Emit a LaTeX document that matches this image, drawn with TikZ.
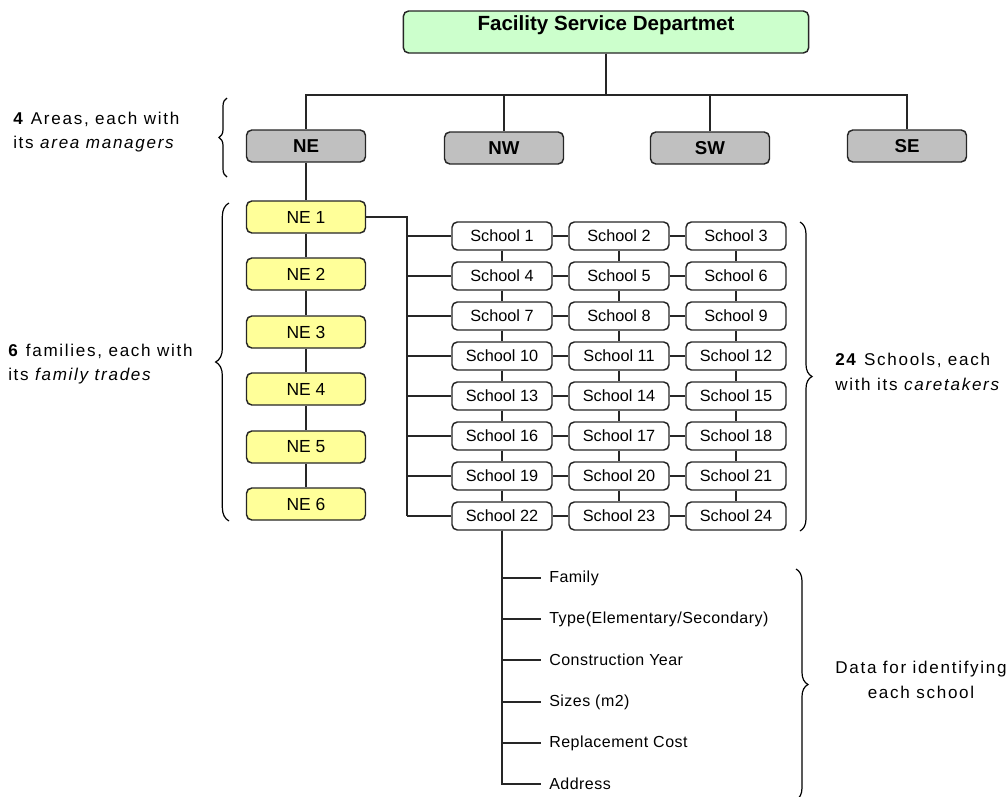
\documentclass[tikz,border=0pt]{standalone}
\usepackage{fontspec}
\setmainfont{Liberation Sans}
\newfontfamily\spacedfont{Liberation Sans}[LetterSpace=10]
\newfontfamily\itemfont{Liberation Sans}[LetterSpace=3]
\usetikzlibrary{decorations.pathreplacing}

\definecolor{fsdgreen}{HTML}{CCFFCC}
\definecolor{areagray}{HTML}{C0C0C0}
\definecolor{neyellow}{HTML}{FFFF99}

\tikzset{
  box/.style={draw=black!85, line width=1.1pt, rounded corners=4pt, inner sep=0pt},
  fsdbox/.style={box, fill=fsdgreen, minimum width=304pt, minimum height=31.5pt},
  areabox/.style={box, fill=areagray, minimum width=89.25pt, minimum height=24pt,
    font=\fontsize{14}{16}\selectfont\bfseries},
  nebox/.style={box, fill=neyellow, minimum width=89.25pt, minimum height=24pt,
    font=\fontsize{13.1}{15}\selectfont},
  schoolbox/.style={box, fill=white, minimum width=75pt, minimum height=21pt,
    font=\fontsize{12.2}{14}\selectfont},
  item/.style={anchor=west, inner xsep=6pt, inner ysep=0pt, font=\itemfont\fontsize{12}{14}\selectfont},
  conn/.style={draw=black!85, line width=1.3pt},
  curly/.style={decorate, decoration={brace, amplitude=#1}, line width=0.9pt},
  lbl/.style={inner sep=0pt, align=left, font=\spacedfont\fontsize{12.8}{18.5}\selectfont}
}

\begin{document}
\begin{tikzpicture}[x=0.75pt, y=-0.75pt]
    \useasboundingbox (0,0) rectangle (1008,797);
    % Departamento
    \node[fsdbox] (fsd) at (606,32) {};
    \node[font=\fontsize{15.4}{18}\selectfont\bfseries] (fsdtxt) at (606,25) {Facility Service Departmet};
    \coordinate (bus) at (606,95);

    % Areas: x/y/{nome}
    \foreach \x/\y/\name [count=\i] in {306/146/NE, 504/148/NW, 710/148/SW, 907/146/SE} {
        \node[areabox] (area\i) at (\x,\y) {\name};
        \draw[conn] (fsd.south) -- (bus) -| (area\i.north);
    }

    % Familias da area NE
    \foreach \y [count=\i] in {217, 274, 332, 389, 447, 504}
        \node[nebox] (ne\i) at (306,\y) {NE \i};
    \draw[conn] (area1.south) -- (ne1.north);
    \foreach \i/\j in {1/2, 2/3, 3/4, 4/5, 5/6}
        \draw[conn] (ne\i.south) -- (ne\j.north);

    % Escolas (8 linhas x 3 colunas)
    \foreach \r in {0,...,7}
        \foreach \k/\x in {1/502, 2/619, 3/736} {
            \pgfmathtruncatemacro\n{3*\r+\k}
            \node[schoolbox] (s\n) at (\x,{236+40*\r}) {School \n};
        }
    \coordinate (trunk) at (407,216);
    \draw[conn] (ne1.east) -| (trunk |- s22.west);
    \foreach \r in {0,...,7} {
        \pgfmathtruncatemacro\ia{3*\r+1}
        \pgfmathtruncatemacro\ib{3*\r+2}
        \pgfmathtruncatemacro\ic{3*\r+3}
        \draw[conn] (trunk |- s\ia.west) -- (s\ia.west);
        \draw[conn] (s\ia.east) -- (s\ib.west) (s\ib.east) -- (s\ic.west);
    }
    \foreach \n in {1,...,21} {
        \pgfmathtruncatemacro\m{\n+3}
        \draw[conn] (s\n.south) -- (s\m.north);
    }

    % Dados de cada escola
    \foreach \txt/\y [count=\i] in {{Family}/578, {Type(Elementary/Secondary)}/619, {Construction Year}/660,
                                     {Sizes (m2)}/702, {Replacement Cost}/743, {Address}/784} {
        \node[item] (d\i) at (541,\y) {\txt};
        \draw[conn] (s22.south) |- (d\i.west);
    }

    % Chaves e legendas
    \draw[curly=6pt] (227,177) -- (227,98);
    \draw[curly=10pt] (229,521) -- (229,203);
    \draw[curly=9pt] (800,222) -- (800,531);
    \draw[curly=9pt] (796,569) -- (796,800);
    \node[lbl, anchor=west] (lblarea) at (13,132) {\textbf{4} Areas, each with\\its \textit{area managers}};
    \node[lbl, anchor=west] (lblfam) at (8,364) {\textbf{6} families, each with\\its \textit{family trades}};
    \node[lbl, anchor=west] (lblschool) at (835,372) {\textbf{24} Schools, each\\with its \textit{caretakers}};
    \node[lbl, align=center] (lbldata) at (921,680) {Data for identifying\\each school};
\end{tikzpicture}
\end{document}
